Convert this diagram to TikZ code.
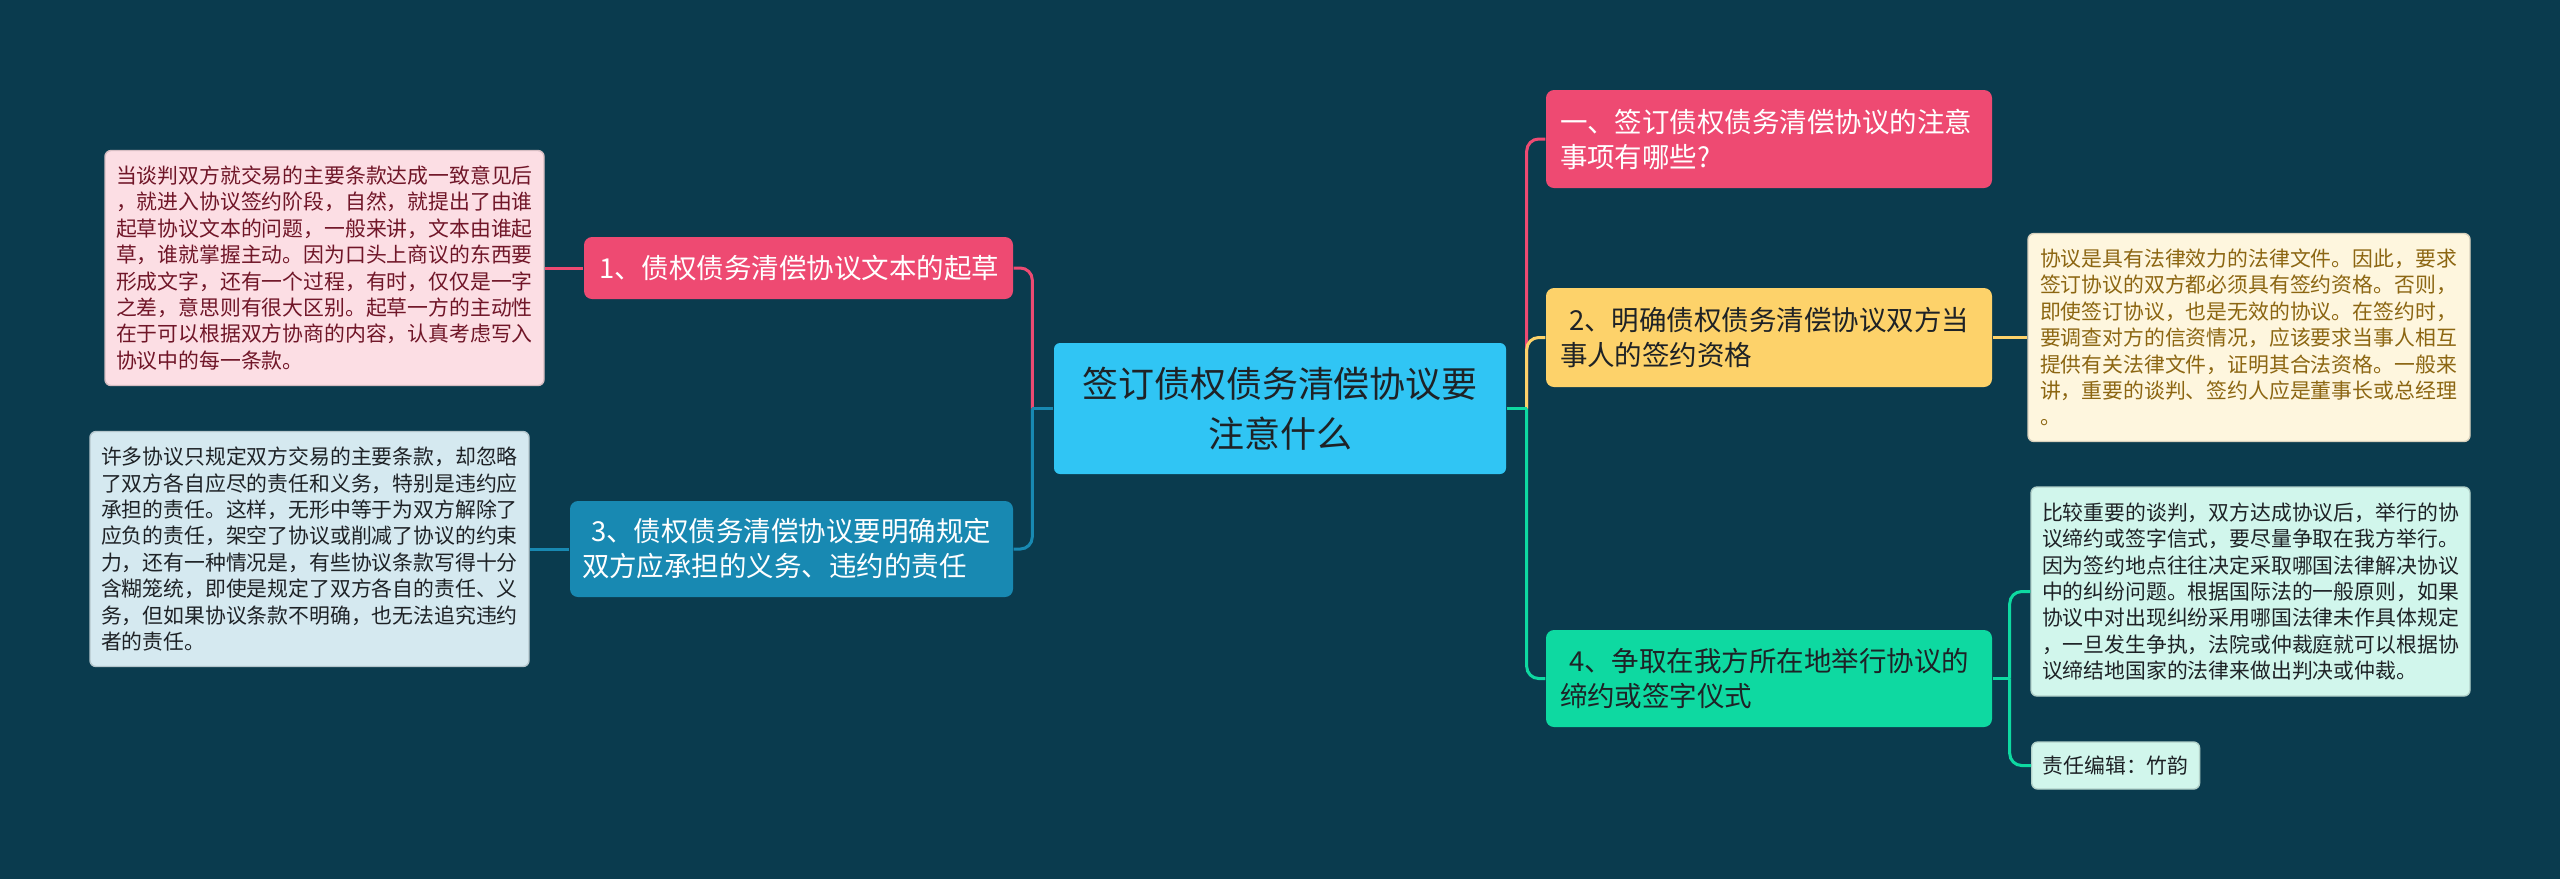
\documentclass[tikz,border=0pt]{standalone}
\usepackage{fontspec}
\newfontfamily\cjkfont{Noto Sans CJK SC}
\usetikzlibrary{positioning,calc}
\definecolor{bgDeep}{RGB}{10,59,78}
\definecolor{hubCyan}{RGB}{48,197,244}
\definecolor{brRose}{RGB}{238,74,114}
\definecolor{brTeal}{RGB}{24,137,178}
\definecolor{brGold}{RGB}{253,210,106}
\definecolor{brMint}{RGB}{14,217,161}
\definecolor{lfRose}{RGB}{252,222,228}
\definecolor{lfTeal}{RGB}{213,233,240}
\definecolor{lfGold}{RGB}{254,246,222}
\definecolor{lfMint}{RGB}{209,246,236}
\definecolor{txRose}{RGB}{112,22,40}
\definecolor{txGold}{RGB}{140,102,18}
\definecolor{txDark}{RGB}{30,34,38}
\tikzset{mmpanel/.style={
  hub/.style={rounded corners=0.06cm, fill=hubCyan, draw=none, minimum width=4.52cm, minimum height=1.31cm, inner sep=0pt, align=center, text=txDark, font=\cjkfont\fontsize{10.24pt}{14.2pt}\selectfont},
  branch/.style={rounded corners=0.08cm, draw=none, inner xsep=0.14cm, inner ysep=0pt, align=left, font=\cjkfont\fontsize{7.82pt}{9.96pt}\selectfont},
  leaf/.style={rounded corners=0.06cm, inner xsep=0.11cm, inner ysep=0pt, align=left, line width=0.4pt, font=\cjkfont\fontsize{5.93pt}{7.51pt}\selectfont},
  link/.style={line width=0.03cm},
}}

\begin{document}
\begin{tikzpicture}[mmpanel,
  roseb/.style={branch, fill=brRose, text=white},
  tealb/.style={branch, fill=brTeal, text=white},
  goldb/.style={branch, fill=brGold, text=txDark},
  mintb/.style={branch, fill=brMint, text=txDark},
  rosel/.style={leaf, fill=lfRose, draw=lfRose!85!black, text=txRose},
  teall/.style={leaf, fill=lfTeal, draw=lfTeal!85!black, text=txDark},
  goldl/.style={leaf, fill=lfGold, draw=lfGold!85!black, text=txGold},
  mintl/.style={leaf, fill=lfMint, draw=lfMint!85!black, text=txDark},
]

\fill[bgDeep] (0,0) rectangle (25.6,-8.79);
\useasboundingbox (0,0) rectangle (25.6,-8.79);

% =====================================================================
% centre
% =====================================================================
\node[hub] (hub) at (12.80,-4.085) {签订债权债务清偿协议要\\注意什么};
\coordinate (ljoin) at ($(hub.west)+(-0.21,0)$);
\coordinate (rjoin) at ($(hub.east)+(0.20,0)$);

% =====================================================================
% left side: branches 1 and 3 with their notes
% =====================================================================
\node[roseb, text width=3.99cm, inner xsep=0.15cm, minimum height=0.62cm] (b1) at (7.985,-2.68) {1、债权债务清偿协议文本的起草};
\node[tealb, text width=4.19cm, inner xsep=0.12cm, minimum height=0.96cm] (b3) at (7.915,-5.49) {\ 3、债权债务清偿协议要明确规定\\双方应承担的义务、违约的责任};

\node[rosel, text width=4.17cm, minimum height=2.35cm] (l1) at (3.245,-2.68) {当谈判双方就交易的主要条款达成一致意见后\\
，就进入协议签约阶段，自然，就提出了由谁\\
起草协议文本的问题，一般来讲，文本由谁起\\
草，谁就掌握主动。因为口头上商议的东西要\\
形成文字，还有一个过程，有时，仅仅是一字\\
之差，意思则有很大区别。起草一方的主动性\\
在于可以根据双方协商的内容，认真考虑写入\\
协议中的每一条款。};
\node[teall, text width=4.17cm, minimum height=2.35cm] (l3) at (3.095,-5.49) {许多协议只规定双方交易的主要条款，却忽略\\
了双方各自应尽的责任和义务，特别是违约应\\
承担的责任。这样，无形中等于为双方解除了\\
应负的责任，架空了协议或削减了协议的约束\\
力，还有一种情况是，有些协议条款写得十分\\
含糊笼统，即使是规定了双方各自的责任、义\\
务，但如果协议条款不明确，也无法追究违约\\
者的责任。};

\foreach \b/\l/\c in {b1/l1/brRose, b3/l3/brTeal}{
  \draw[link, \c, rounded corners=0.12cm] (ljoin) |- (\b.east);
  \draw[link, \c] (\b.west) -- (\l.east);
}
\draw[link, brTeal] (hub.west) -- (ljoin);

% =====================================================================
% right side: branches one, 2 and 4 with their notes
% =====================================================================
\node[roseb, text width=4.18cm, minimum height=0.98cm] (r1) at (17.69,-1.39) {一、签订债权债务清偿协议的注意\\事项有哪些?};
\node[goldb, text width=4.18cm, minimum height=0.99cm] (r2) at (17.69,-3.375) {\ 2、明确债权债务清偿协议双方当\\事人的签约资格};
\node[mintb, text width=4.18cm, minimum height=0.97cm] (r4) at (17.69,-6.785) {\ 4、争取在我方所在地举行协议的\\缔约或签字仪式};

\node[goldl, text width=4.18cm, inner xsep=0.12cm, minimum height=2.08cm] (g2) at (22.49,-3.375) {协议是具有法律效力的法律文件。因此，要求\\
签订协议的双方都必须具有签约资格。否则，\\
即使签订协议，也是无效的协议。在签约时，\\
要调查对方的信资情况，应该要求当事人相互\\
提供有关法律文件，证明其合法资格。一般来\\
讲，重要的谈判、签约人应是董事长或总经理\\
。};
\node[mintl, text width=4.17cm, minimum height=2.09cm] (m1) at (22.505,-5.915) {比较重要的谈判，双方达成协议后，举行的协\\
议缔约或签字信式，要尽量争取在我方举行。\\
因为签约地点往往决定采取哪国法律解决协议\\
中的纠纷问题。根据国际法的一般原则，如果\\
协议中对出现纠纷采用哪国法律未作具体规定\\
，一旦发生争执，法院或仲裁庭就可以根据协\\
议缔结地国家的法律来做出判决或仲裁。};
\node[mintl, minimum height=0.47cm, anchor=west] (m2) at (20.31,-7.655) {责任编辑：竹韵};
\coordinate (mjoin) at ($(r4.east)+(0.17,0)$);

\draw[link, brRose, rounded corners=0.12cm] (rjoin) |- (r1.west);
\draw[link, brGold, rounded corners=0.12cm] (rjoin) |- (r2.west);
\draw[link, brMint, rounded corners=0.12cm] (rjoin) |- (r4.west);
\draw[link, brMint] (hub.east) -- (rjoin);
\draw[link, brGold] (r2.east) -- (g2.west);
\draw[link, brMint] (r4.east) -- (mjoin);
\draw[link, brMint, rounded corners=0.12cm] (mjoin) |- (m1.west);
\draw[link, brMint, rounded corners=0.12cm] (mjoin) |- (m2.west);

\end{tikzpicture}
\end{document}
